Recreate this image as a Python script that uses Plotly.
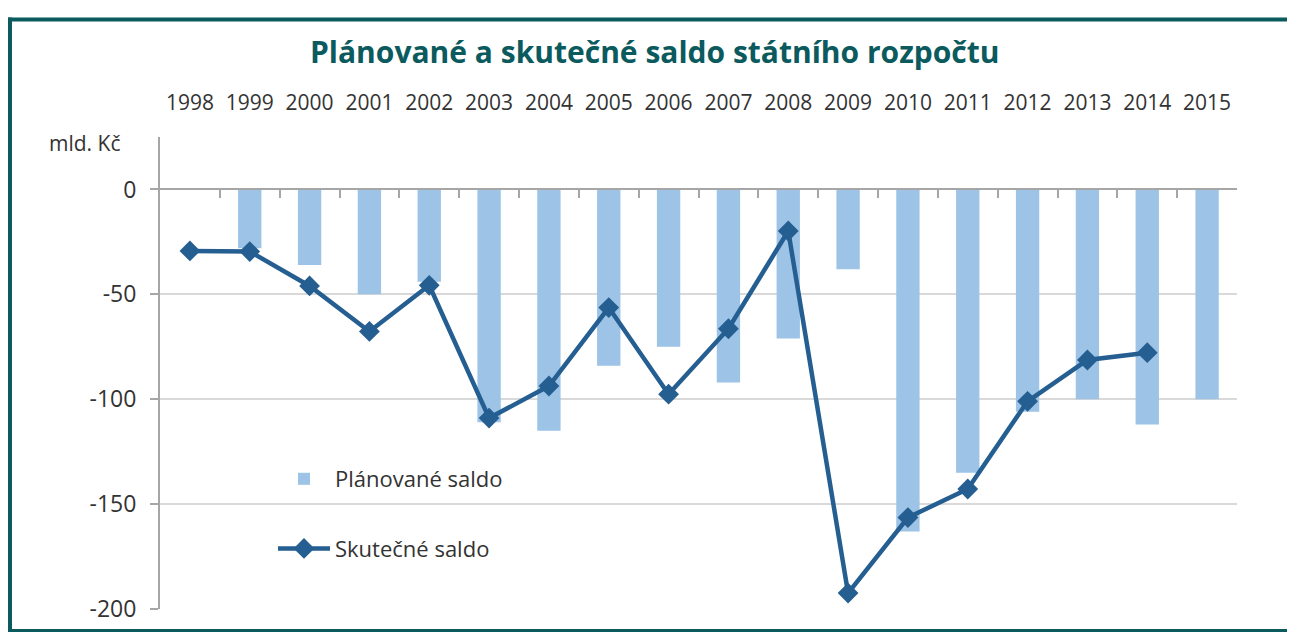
import plotly.graph_objects as go

years = [str(y) for y in range(1998, 2016)]
planned = [None, -28, -36, -50, -44, -111, -115, -84, -75, -92, -71, -38,
           -163, -135, -106, -100, -112, -100]
actual = [-29.3, -29.6, -46.0, -67.7, -45.7, -109.0, -93.7, -56.3, -97.6,
          -66.4, -19.8, -192.4, -156.4, -142.8, -101.0, -81.3, -77.8, None]
y_ticks = [0, -50, -100, -150, -200]

TITLE = "Plánované a skutečné saldo státního rozpočtu"
UNIT = "mld. Kč"

# The page body has an 8px default margin; keep the figure inside the window.
OFF = 8
W, H = 1295 - 2 * OFF, 640 - 2 * OFF
# plot area in screen pixels
SL, SR, ST, SB = 160, 1237, 137, 609
L, R, T, B = SL - OFF, SR - OFF, ST - OFF, SB - OFF
Y_MIN, Y_MAX = -200, 25

def px(sx):
    return (sx - SL) / (SR - SL)

def py(sy):
    return (SB - sy) / (SB - ST)

BAR_COLOR = "#9dc3e6"
LINE_COLOR = "#255e91"
AXIS_COLOR = "#a6a6a6"
GRID_COLOR = "#d9d9d9"
TEAL = "#0b5a5e"
TEXT = "#333333"
FONT = "Open Sans, Liberation Sans, sans-serif"

fig = go.Figure()
fig.add_trace(go.Bar(
    x=years, y=planned, name="Plánované saldo",
    marker=dict(color=BAR_COLOR, line=dict(width=0)),
    legendgroup="a",
))
fig.add_trace(go.Scatter(
    x=years, y=actual, name="Skutečné saldo", mode="lines+markers",
    line=dict(color=LINE_COLOR, width=4.5),
    marker=dict(symbol="diamond", size=16, color=LINE_COLOR),
    legendgroup="b",
))

zero_pos = (0 - Y_MIN) / (Y_MAX - Y_MIN)

border = dict(color=TEAL, width=4)

fig.update_layout(
    width=W, height=H,
    margin=dict(l=L, r=W - R, t=T, b=H - B, pad=0, autoexpand=False),
    paper_bgcolor="white",
    plot_bgcolor="white",
    bargap=0.61,
    showlegend=True,
    legend=dict(
        x=px(273), y=py(458), xanchor="left", yanchor="top",
        font=dict(family=FONT, size=22, color=TEXT),
        bgcolor="rgba(0,0,0,0)", itemwidth=52, tracegroupgap=38,
        traceorder="grouped",
    ),
    xaxis=dict(
        type="category", categoryorder="array", categoryarray=years,
        anchor="free", position=zero_pos, side="top",
        showline=True, linecolor=AXIS_COLOR, linewidth=2,
        ticks="inside", ticklen=8, tickwidth=2, tickcolor=AXIS_COLOR,
        tickson="boundaries", showgrid=False, zeroline=False,
        ticklabelstandoff=70, tickangle=0, automargin=False,
        tickfont=dict(family=FONT, size=21, color=TEXT),
        range=[-0.5, len(years) - 0.5],
    ),
    yaxis=dict(
        range=[Y_MIN, Y_MAX], tickvals=y_ticks,
        ticktext=[str(v) for v in y_ticks],
        showline=True, linecolor=AXIS_COLOR, linewidth=2,
        ticks="outside", ticklen=8, tickwidth=2, tickcolor=AXIS_COLOR,
        showgrid=True, gridcolor=GRID_COLOR, gridwidth=2,
        zeroline=False, ticklabelstandoff=9, automargin=False,
        tickfont=dict(family=FONT, size=23, color=TEXT),
    ),
    shapes=[
        # left, top and bottom frame lines
        dict(type="line", xref="paper", yref="paper", layer="below",
             x0=px(10), x1=px(10), y0=py(17.5), y1=py(633), line=border),
        dict(type="line", xref="paper", yref="paper", layer="below",
             x0=px(8), x1=px(1320), y0=py(19.5), y1=py(19.5), line=border),
        dict(type="line", xref="paper", yref="paper", layer="below",
             x0=px(8), x1=px(1320), y0=py(631), y1=py(631), line=border),
    ],
    annotations=[
        dict(text=f"<b>{TITLE}</b>", xref="paper", yref="paper",
             x=px(655), y=py(52), xanchor="center", yanchor="middle",
             showarrow=False,
             font=dict(family="Open Sans, sans-serif", size=30, color=TEAL)),
        dict(text=UNIT, xref="paper", yref="paper",
             x=px(47), y=py(143), xanchor="left", yanchor="middle",
             showarrow=False, font=dict(family=FONT, size=21, color=TEXT)),
    ],
)

fig.write_html("out.html")
